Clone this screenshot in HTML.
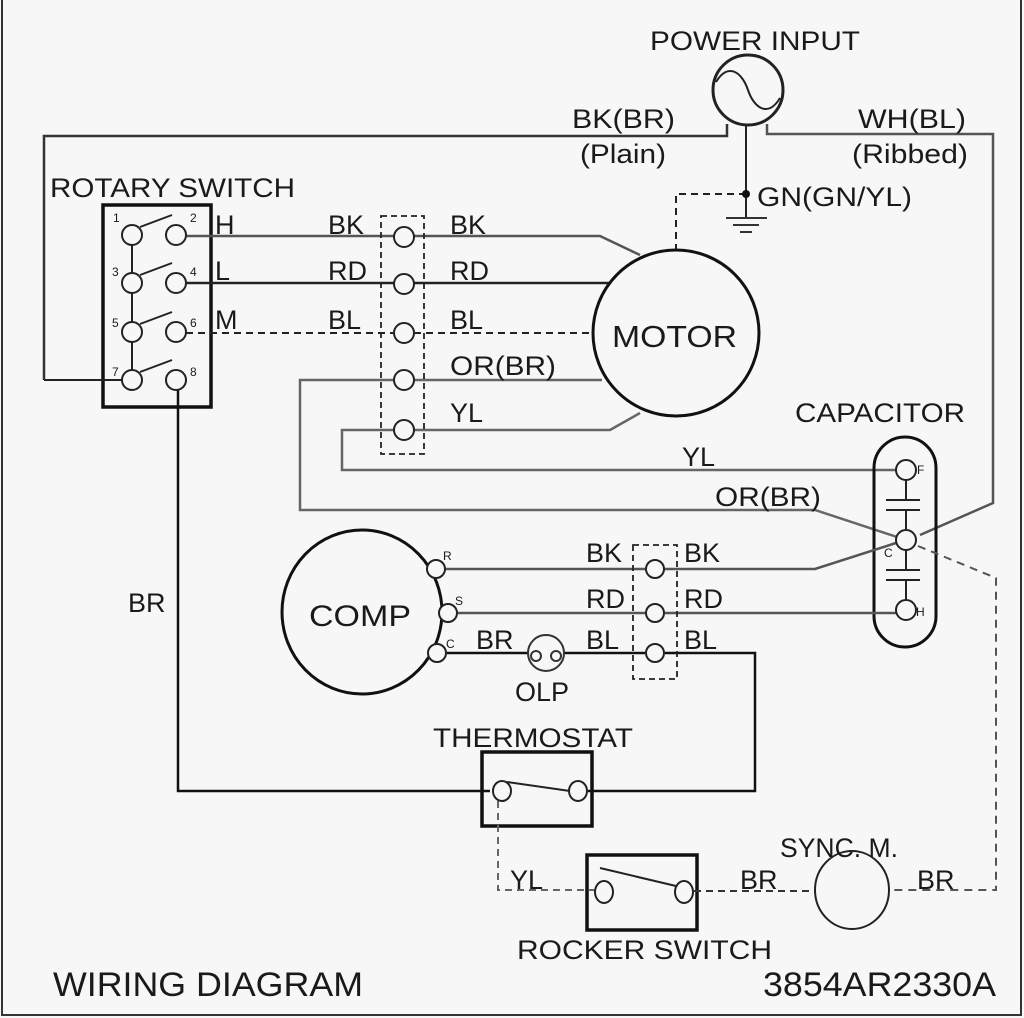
<!DOCTYPE html>
<html><head><meta charset="utf-8"><style>
html,body{margin:0;padding:0;background:#f7f7f7}
svg{display:block}
text{font-family:"Liberation Sans",Arial,sans-serif;fill:#1a1a1a}
</style></head><body>
<svg width="1024" height="1018" viewBox="0 0 1024 1018" xmlns="http://www.w3.org/2000/svg">
<rect width="1024" height="1018" fill="#f7f7f7"/>
<path d="M2 0 V1015 H1021 V0" fill="none" stroke="#333" stroke-width="2"/>

<g fill="none" stroke-linecap="butt">
<circle cx="748" cy="90" r="35" stroke="#222" stroke-width="3"/>
<path d="M716 82 C728 62 742 72 748 90 C754 108 768 118 780 98" stroke="#222" stroke-width="2"/>
<path d="M44 380 V136 H727 V124" stroke="#333" stroke-width="2.5"/>
<path d="M767 124 V134 H993 V503 L920 535" stroke="#555" stroke-width="2.5"/>
<path d="M746 125 V218" stroke="#222" stroke-width="2"/>
<path d="M726 218 H767 M733 225 H759 M740 232 H752" stroke="#333" stroke-width="2"/>
<path d="M746 194 H676 V250" stroke="#222" stroke-width="2" stroke-dasharray="7,5"/>

<rect x="103" y="205" width="108" height="202" stroke="#111" stroke-width="3.5"/>
<path d="M132 245 V370" stroke="#222" stroke-width="2"/>
<path d="M44 380 H122" stroke="#222" stroke-width="2"/>
<path d="M140 227 L172 215 M140 275 L172 263 M140 324 L172 312 M140 372 L172 360" stroke="#222" stroke-width="2"/>
<path d="M178 390 V791 H490" stroke="#111" stroke-width="2.5"/>

<path d="M186 236 H394 M414 236 H600 L640 255" stroke="#555" stroke-width="2.5"/>
<path d="M186 283 H394 M414 283 H610" stroke="#222" stroke-width="2.5"/>
<path d="M186 333 H394 M414 333 H594" stroke="#222" stroke-width="2" stroke-dasharray="7,5"/>
<path d="M394 380 H300 V510 H815 L897 537" stroke="#666" stroke-width="2.5"/>
<path d="M414 380 H602" stroke="#666" stroke-width="2.5"/>
<path d="M394 430 H342 V470 H896" stroke="#666" stroke-width="2.5"/>
<path d="M414 430 H610 L640 413" stroke="#666" stroke-width="2.5"/>
<rect x="381" y="216" width="43" height="238" stroke="#222" stroke-width="1.8" stroke-dasharray="6,4"/>

<circle cx="676" cy="333" r="83" stroke="#111" stroke-width="3"/>

<rect x="874" y="437" width="62" height="210" rx="31" stroke="#111" stroke-width="3"/>
<path d="M906 480 V500 M886 500 H920 M886 510 H920 M906 510 V530 M906 550 V570 M886 570 H920 M886 580 H920 M906 580 V600" stroke="#222" stroke-width="2"/>
<path d="M918 546 L996 578 V890 H889" stroke="#555" stroke-width="2" stroke-dasharray="8,6"/>

<ellipse cx="362" cy="612" rx="80" ry="82" stroke="#111" stroke-width="3"/>
<path d="M446 569 H645 M665 569 H815 L896 543" stroke="#555" stroke-width="2.5"/>
<path d="M458 613 H645 M665 613 H896" stroke="#555" stroke-width="2.5"/>
<path d="M447 653 H528 M564 653 H645 M665 653 H755 V791 H588" stroke="#111" stroke-width="2.5"/>
<rect x="633" y="545" width="44" height="134" stroke="#222" stroke-width="1.8" stroke-dasharray="6,4"/>
<circle cx="546" cy="653" r="18" stroke="#333" stroke-width="2"/>
<circle cx="536" cy="656" r="5" stroke="#333" stroke-width="2"/>
<circle cx="556" cy="656" r="5" stroke="#333" stroke-width="2"/>

<rect x="482" y="752" width="110" height="74" stroke="#111" stroke-width="3.5"/>
<path d="M507 782 L570 791" stroke="#222" stroke-width="2"/>
<path d="M498 801 V890 H594" stroke="#666" stroke-width="2" stroke-dasharray="7,5"/>

<rect x="587" y="855" width="110" height="75" stroke="#111" stroke-width="3.5"/>
<path d="M600 868 L676 886" stroke="#222" stroke-width="2"/>
<path d="M694 891 H815" stroke="#333" stroke-width="2" stroke-dasharray="7,5"/>
<ellipse cx="852" cy="890" rx="37" ry="39" stroke="#222" stroke-width="2"/>
</g>

<g fill="#f7f7f7" stroke="#222" stroke-width="2">
<circle cx="132" cy="235" r="10"/><circle cx="176" cy="235" r="10"/>
<circle cx="132" cy="283" r="10"/><circle cx="176" cy="283" r="10"/>
<circle cx="132" cy="332" r="10"/><circle cx="176" cy="332" r="10"/>
<circle cx="132" cy="380" r="10"/><circle cx="176" cy="380" r="10"/>
<circle cx="404" cy="237" r="10"/><circle cx="404" cy="284" r="10"/><circle cx="404" cy="333" r="10"/><circle cx="404" cy="380" r="10"/><circle cx="404" cy="430" r="10"/>
<circle cx="906" cy="470" r="10"/><circle cx="906" cy="540" r="10"/><circle cx="906" cy="610" r="10"/>
<circle cx="436" cy="569" r="9"/><circle cx="448" cy="613" r="9"/><circle cx="437" cy="653" r="9"/>
<circle cx="655" cy="569" r="9"/><circle cx="655" cy="613" r="9"/><circle cx="655" cy="653" r="9"/>
<ellipse cx="502" cy="791" rx="9" ry="10"/><ellipse cx="578" cy="791" rx="9" ry="10"/>
<ellipse cx="604" cy="892" rx="9" ry="11"/><ellipse cx="684" cy="892" rx="9" ry="11"/>
</g>
<circle cx="746" cy="194" r="4" fill="#111"/>

<g font-size="27">
<text x="650" y="50" textLength="210" lengthAdjust="spacingAndGlyphs">POWER INPUT</text>
<text x="572" y="128" textLength="103" lengthAdjust="spacingAndGlyphs">BK(BR)</text>
<text x="580" y="163" textLength="86" lengthAdjust="spacingAndGlyphs">(Plain)</text>
<text x="858" y="128" textLength="108" lengthAdjust="spacingAndGlyphs">WH(BL)</text>
<text x="852" y="163" textLength="116" lengthAdjust="spacingAndGlyphs">(Ribbed)</text>
<text x="757" y="206" textLength="155" lengthAdjust="spacingAndGlyphs">GN(GN/YL)</text>
<text x="50" y="197" textLength="245" lengthAdjust="spacingAndGlyphs">ROTARY SWITCH</text>
<text x="215" y="234">H</text><text x="215" y="280">L</text><text x="215" y="329">M</text>
<text x="328" y="234">BK</text><text x="328" y="280">RD</text><text x="328" y="329">BL</text>
<text x="450" y="234">BK</text><text x="450" y="280">RD</text><text x="450" y="329">BL</text>
<text x="450" y="375" textLength="106" lengthAdjust="spacingAndGlyphs">OR(BR)</text>
<text x="450" y="422">YL</text>
<text x="612" y="347" font-size="31" textLength="125" lengthAdjust="spacingAndGlyphs">MOTOR</text>
<text x="795" y="422" textLength="170" lengthAdjust="spacingAndGlyphs">CAPACITOR</text>
<text x="682" y="466">YL</text>
<text x="715" y="506" textLength="106" lengthAdjust="spacingAndGlyphs">OR(BR)</text>
<text x="128" y="612">BR</text>
<text x="309" y="626" font-size="30" textLength="102" lengthAdjust="spacingAndGlyphs">COMP</text>
<text x="586" y="562">BK</text><text x="586" y="608">RD</text><text x="586" y="649">BL</text>
<text x="684" y="562">BK</text><text x="684" y="608">RD</text><text x="684" y="649">BL</text>
<text x="476" y="649">BR</text>
<text x="515" y="701">OLP</text>
<text x="433" y="747" textLength="200" lengthAdjust="spacingAndGlyphs">THERMOSTAT</text>
<text x="510" y="889">YL</text>
<text x="740" y="889">BR</text>
<text x="917" y="889">BR</text>
<text x="780" y="857" textLength="118" lengthAdjust="spacingAndGlyphs">SYNC. M.</text>
<text x="517" y="959" textLength="255" lengthAdjust="spacingAndGlyphs">ROCKER SWITCH</text>
<text x="53" y="996" font-size="34" textLength="310" lengthAdjust="spacingAndGlyphs">WIRING DIAGRAM</text>
<text x="763" y="996" font-size="34" textLength="233" lengthAdjust="spacingAndGlyphs">3854AR2330A</text>
</g>
<g font-size="12">
<text x="113" y="222">1</text><text x="190" y="222">2</text>
<text x="112" y="276">3</text><text x="190" y="276">4</text>
<text x="112" y="327">5</text><text x="190" y="327">6</text>
<text x="112" y="376">7</text><text x="190" y="376">8</text>
<text x="443" y="560">R</text><text x="455" y="605">S</text><text x="446" y="648">C</text>
<text x="917" y="474">F</text><text x="884" y="557">C</text><text x="916" y="616">H</text>
</g>
</svg>
</body></html>
